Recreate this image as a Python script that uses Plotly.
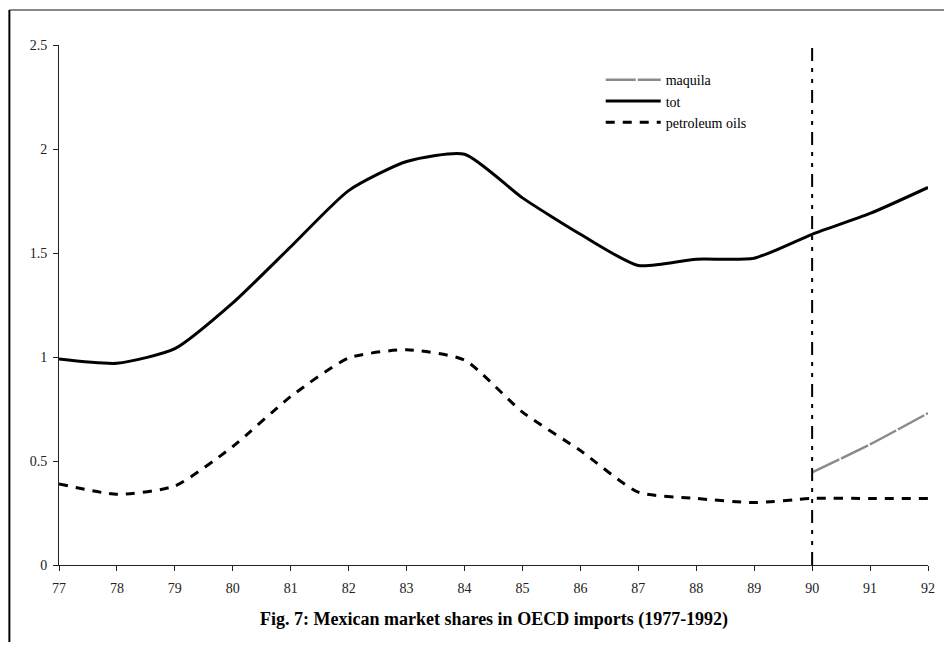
import plotly.graph_objects as go

years = [77, 78, 79, 80, 81, 82, 83, 84, 85, 86, 87, 88, 89, 90, 91, 92]
tot = [0.99, 0.97, 1.04, 1.26, 1.53, 1.80, 1.94, 1.975, 1.765, 1.59, 1.44, 1.47, 1.475, 1.59, 1.69, 1.815]
petroleum = [0.39, 0.34, 0.38, 0.57, 0.81, 0.995, 1.035, 0.985, 0.735, 0.55, 0.35, 0.32, 0.30, 0.32, 0.32, 0.32]
maq_years = [90, 91, 92]
maquila = [0.445, 0.58, 0.73]
x_ticks = years
x_labels = [str(y) for y in years]
y_ticks = [0, 0.5, 1, 1.5, 2, 2.5]
y_labels = ["0", "0.5", "1", "1.5", "2", "2.5"]
break_year = 90
title_text = "Fig. 7: Mexican market shares in OECD imports (1977-1992)"

FONT = "Liberation Serif, Times New Roman, serif"
SMOOTH = 0.6

fig = go.Figure()
fig.add_trace(go.Scatter(x=maq_years, y=maquila, name="maquila", mode="lines",
                         line=dict(color="#8a8a8a", width=2.5, dash="30px,2px", shape="spline", smoothing=SMOOTH)))
fig.add_trace(go.Scatter(x=years, y=tot, name="tot", mode="lines",
                         line=dict(color="black", width=3, shape="spline", smoothing=SMOOTH)))
fig.add_trace(go.Scatter(x=years, y=petroleum, name="petroleum oils", mode="lines",
                         line=dict(color="black", width=3, dash="9px,8px", shape="spline", smoothing=SMOOTH)))

fig.add_shape(type="line", xref="x", yref="y", x0=break_year, x1=break_year, y0=0, y1=2.5,
              line=dict(color="black", width=2, dash="13px,7px,4px,7px,4px,7px"))

# outer frame lines
fig.add_shape(type="line", xref="paper", yref="paper", x0=-0.0571, x1=1.03, y0=1.0673, y1=1.0673,
              line=dict(color="#888888", width=2))
fig.add_shape(type="line", xref="paper", yref="paper", x0=-0.0571, x1=-0.0571, y0=1.0673, y1=-0.2,
              line=dict(color="black", width=2))

fig.add_annotation(text="<b>" + title_text + "</b>", xref="paper", yref="paper", x=0.5, y=-0.104,
                   xanchor="center", yanchor="middle",
                   showarrow=False, font=dict(family=FONT, size=18, color="black"))

fig.update_layout(
    width=936, height=634,
    margin=dict(l=51, r=9, t=37, b=77),
    paper_bgcolor="white", plot_bgcolor="white",
    font=dict(family=FONT, size=14, color="#222"),
    showlegend=True,
    legend=dict(x=0.6234, y=0.963, xanchor="left", yanchor="top", bgcolor="rgba(0,0,0,0)",
                font=dict(family=FONT, size=14, color="black"), itemwidth=55, tracegroupgap=0),
    hovermode=False,
)
fig.update_xaxes(range=[77, 92], tickvals=x_ticks, ticktext=x_labels, showgrid=False, zeroline=False,
                 showline=True, linecolor="#222", linewidth=1, ticks="outside", ticklen=5,
                 ticklabelstandoff=5,
                 tickcolor="#222", tickfont=dict(family=FONT, size=14, color="#222"))
fig.update_yaxes(range=[0, 2.5], tickvals=y_ticks, ticktext=y_labels, showgrid=False, zeroline=False,
                 showline=True, linecolor="#222", linewidth=1, ticks="outside", ticklen=5,
                 ticklabelstandoff=3,
                 tickcolor="#222", tickfont=dict(family=FONT, size=14, color="#222"))

fig.write_html("out.html")
